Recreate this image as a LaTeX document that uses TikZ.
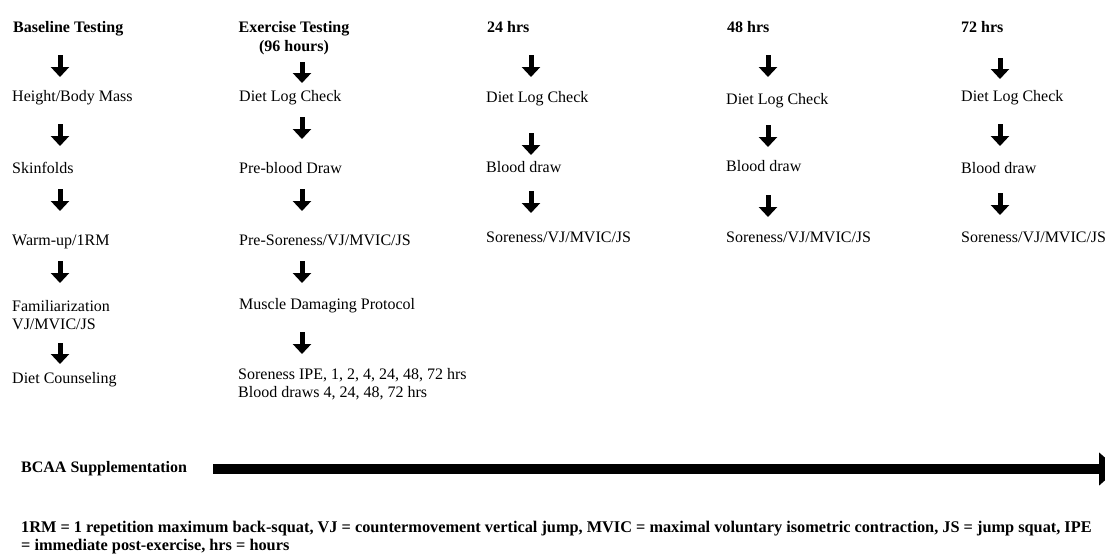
\documentclass[tikz,border=0pt]{standalone}
\usepackage{fontspec}
\setmainfont{Liberation Serif}
\usetikzlibrary{arrows.meta}
\begin{document}
\begin{tikzpicture}[x=1pt,y=-1pt,
  lbl/.style={anchor=base west, inner sep=0pt, align=left, font=\fontsize{16}{18}\selectfont},
  hdr/.style={anchor=base west, inner sep=0pt, align=left, font=\fontsize{16}{19}\selectfont\bfseries},
  darrow/.style={line width=5pt, -{Triangle[width=18pt,length=10pt]}},
  bigarrow/.style={line width=10pt, -{Triangle[width=32pt,length=19pt]}},
]
\useasboundingbox (0,0) rectangle (1105,554);
% Column 1
\node[hdr] (h1) at (13,32.3) {Baseline Testing};
\node[lbl] (c1a) at (12,101.3) {Height/Body Mass};
\node[lbl] (c1b) at (12,173.3) {Skinfolds};
\node[lbl] (c1c) at (12,245.3) {Warm-up/1RM};
\node[lbl] (c1d) at (12,329.3) {Familiarization\\VJ/MVIC/JS};
\node[lbl] (c1e) at (12,383) {Diet Counseling};
% Column 2
\node[hdr, anchor=base, align=center] (h2) at (294,51.3) {Exercise Testing\\(96 hours)};
\node[lbl] (c2a) at (239,101.3) {Diet Log Check};
\node[lbl] (c2b) at (239,173.3) {Pre-blood Draw};
\node[lbl] (c2c) at (239,245.3) {Pre-Soreness/VJ/MVIC/JS};
\node[lbl] (c2d) at (239,309.3) {Muscle Damaging Protocol};
\node[lbl] (c2e) at (238,397.3) {Soreness IPE, 1, 2, 4, 24, 48, 72 hrs\\Blood draws 4, 24, 48, 72 hrs};
% Column 3
\node[hdr] (h3) at (487,32.3) {24 hrs};
\node[lbl] (c3a) at (486,102.8) {Diet Log Check};
\node[lbl] (c3b) at (486,172.3) {Blood draw};
\node[lbl] (c3c) at (486,242.3) {Soreness/VJ/MVIC/JS};
% Column 4
\node[hdr] (h4) at (727,32.3) {48 hrs};
\node[lbl] (c4a) at (726,104.3) {Diet Log Check};
\node[lbl] (c4b) at (726,171.8) {Blood draw};
\node[lbl] (c4c) at (726,242.3) {Soreness/VJ/MVIC/JS};
% Column 5
\node[hdr] (h5) at (961,32.3) {72 hrs};
\node[lbl] (c5a) at (961,101.3) {Diet Log Check};
\node[lbl] (c5b) at (961,173.3) {Blood draw};
\node[lbl] (c5c) at (961,242.3) {Soreness/VJ/MVIC/JS};
% Arrow coordinates
\coordinate (a11t) at (60,55);  \coordinate (a11b) at (60,77);
\coordinate (a12t) at (60,124); \coordinate (a12b) at (60,146);
\coordinate (a13t) at (60,189); \coordinate (a13b) at (60,211);
\coordinate (a14t) at (60,261); \coordinate (a14b) at (60,283);
\coordinate (a15t) at (60,343); \coordinate (a15b) at (60,364);
\coordinate (a21t) at (302,62);  \coordinate (a21b) at (302,83);
\coordinate (a22t) at (302,117); \coordinate (a22b) at (302,139);
\coordinate (a23t) at (302,189); \coordinate (a23b) at (302,211);
\coordinate (a24t) at (302,261); \coordinate (a24b) at (302,283);
\coordinate (a25t) at (302,332); \coordinate (a25b) at (302,354);
\coordinate (a31t) at (531,55);  \coordinate (a31b) at (531,77);
\coordinate (a32t) at (531,133); \coordinate (a32b) at (531,155);
\coordinate (a33t) at (531,191); \coordinate (a33b) at (531,213);
\coordinate (a41t) at (768,55);  \coordinate (a41b) at (768,77);
\coordinate (a42t) at (768,125); \coordinate (a42b) at (768,147);
\coordinate (a43t) at (768,195); \coordinate (a43b) at (768,217);
\coordinate (a51t) at (1000,58);  \coordinate (a51b) at (1000,79);
\coordinate (a52t) at (1000,124); \coordinate (a52b) at (1000,146);
\coordinate (a53t) at (1000,193); \coordinate (a53b) at (1000,215);
\foreach \c/\r in {1/1,1/2,1/3,1/4,1/5,2/1,2/2,2/3,2/4,2/5,3/1,3/2,3/3,4/1,4/2,4/3,5/1,5/2,5/3}
  \draw[darrow] (a\c\r t) -- (a\c\r b);
% BCAA
\node[hdr] (bcaa) at (21,472.3) {BCAA Supplementation};
\coordinate (bs) at (213,469);
\coordinate (be) at (1118,469);
\draw[bigarrow] (bs) -- (be);
% Footnote
\node[hdr, font=\fontsize{16.3}{18}\selectfont\bfseries] (fn) at (21,550.5) {1RM = 1 repetition maximum back-squat, VJ = countermovement vertical jump, MVIC = maximal voluntary isometric contraction, JS = jump squat, IPE\\= immediate post-exercise, hrs = hours};
\end{tikzpicture}
\end{document}
